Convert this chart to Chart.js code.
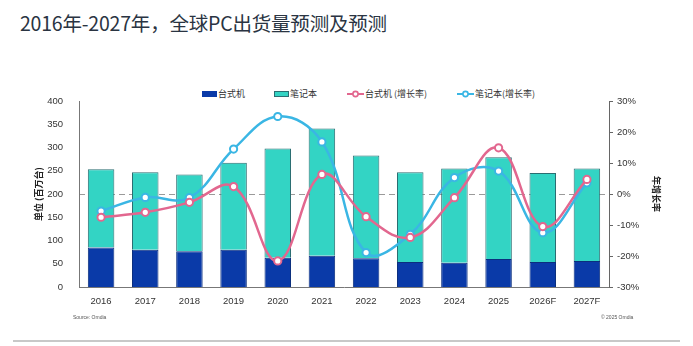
<!DOCTYPE html>
<html>
<head>
<meta charset="utf-8">
<script src="https://cdn.jsdelivr.net/npm/chart.js@4"></script>
<style>
  html, body { margin: 0; padding: 0; background: #fff; }
  #wrap { position: relative; width: 693px; height: 346px; overflow: hidden; }
  #chart { position: absolute; left: 0; top: 0; }
  .title {
    position: absolute; left: 20px; top: 8px;
    font: 19.5px "Noto Sans CJK SC", "Noto Sans", sans-serif; color: #2a3442;
    white-space: nowrap; letter-spacing: -0.2px;
  }
  .lg { position: absolute; top: 88px; font: 9px "Noto Sans CJK SC", sans-serif; color: #333; white-space: nowrap; line-height: 12px; }
  .lg svg { vertical-align: middle; margin-right: 1px; position: relative; top: -1px; }
  .note { position: absolute; top: 314px; font: 5px "Liberation Sans", Arial, sans-serif; color: #555; }
  .rule { position: absolute; left: 13px; top: 340px; width: 667px; height: 2px; background: #c8c8c8; }
</style>
</head>
<body>
<div id="wrap">
  <div class="title">2016年-2027年，全球PC出货量预测及预测</div>
  <div class="lg" style="left:202px"><svg width="15" height="6"><rect x="0" y="0" width="15" height="6" fill="#0a3aa8"/></svg>台式机</div>
  <div class="lg" style="left:274px"><svg width="15" height="6"><rect x="0.5" y="0.5" width="14" height="5" fill="#33d4c4" stroke="#2b6e72"/></svg>笔记本</div>
  <div class="lg" style="left:347px"><svg width="17" height="8"><line x1="0" y1="4" x2="17" y2="4" stroke="#e2678f" stroke-width="2"/><circle cx="8.5" cy="4" r="2.6" fill="#fff" stroke="#e2678f" stroke-width="1.6"/></svg>台式机 (增长率)</div>
  <div class="lg" style="left:457px"><svg width="17" height="8"><line x1="0" y1="4" x2="17" y2="4" stroke="#3ab6e4" stroke-width="2"/><circle cx="8.5" cy="4" r="2.6" fill="#fff" stroke="#3ab6e4" stroke-width="1.6"/></svg>笔记本(增长率)</div>
  <canvas id="chart" width="693" height="346"></canvas>
  <div class="note" style="left:73px">Source: Omdia</div>
  <div class="note" style="left:601px">© 2025 Omdia</div>
  <div class="rule"></div>
</div>
<script>
// ── data (百万台 / %) ─────────────────────────────────────────────
const years        = ['2016', '2017', '2018', '2019', '2020', '2021', '2022', '2023', '2024', '2025', '2026F', '2027F'];
const desktop      = [85, 80, 77, 80, 63, 67, 62, 54, 52, 60, 54, 56];
const notebook     = [168, 167, 165, 187, 235, 274, 221, 193, 203, 219, 191, 199];
const desktopGrow  = [-7.5, -5.9, -2.7, 2.4, -21.6, 6.3, -7.3, -14.0, -1.2, 14.9, -10.5, 4.7];
const notebookGrow = [-5.5, -1.1, -1.2, 14.5, 25.0, 16.8, -18.9, -13.0, 5.3, 7.4, -12.5, 3.6];
const leftTicks    = [0, 50, 100, 150, 200, 250, 300, 350, 400];
const rightTicks   = [-30, -20, -10, 0, 10, 20, 30];

const PINK = '#e2678f';
const BLUE = '#3ab6e4';
const tickFont = { family: '"Liberation Sans", Arial, sans-serif', size: 9.5 };

const lineSet = (label, data, color) => ({
  type: 'line',
  label,
  data,
  yAxisID: 'y1',
  borderColor: color,
  backgroundColor: '#fff',
  borderWidth: 2.5,
  tension: 0.4,
  pointRadius: 3.6,
  pointBorderWidth: 2,
  pointBackgroundColor: '#fff',
  pointBorderColor: color,
  order: 0,
});

new Chart(document.getElementById('chart'), {
  type: 'bar',
  data: {
    labels: years,
    datasets: [
      { label: '台式机', data: desktop, backgroundColor: '#0a3aa8', borderColor: '#0b2f7e', borderWidth: 1,
        yAxisID: 'y', stack: 'pc', categoryPercentage: 1, barPercentage: 0.6, order: 1 },
      { label: '笔记本', data: notebook, backgroundColor: '#33d4c4', borderColor: '#2b6e72', borderWidth: 1,
        yAxisID: 'y', stack: 'pc', categoryPercentage: 1, barPercentage: 0.6, order: 1 },
      lineSet('台式机 (增长率)', desktopGrow, PINK),
      lineSet('笔记本(增长率)', notebookGrow, BLUE),
    ],
  },
  options: {
    responsive: false,
    animation: false,
    layout: { padding: { left: 33, right: 31, top: 101, bottom: 36 } },
    plugins: { legend: { display: false }, tooltip: { enabled: false } },
    scales: {
      x: {
        stacked: true,
        grid: { display: false },
        border: { color: '#777', width: 1 },
        ticks: { color: '#333', font: tickFont, padding: 1, maxRotation: 0 },
        afterFit: s => { s.height = 23; },
      },
      y: {
        stacked: true,
        min: 0, max: 400,
        afterBuildTicks: s => { s.ticks = leftTicks.map(v => ({ value: v })); },
        grid: { display: false },
        border: { color: '#777', width: 1 },
        ticks: { color: '#333', font: tickFont, padding: 8 },
        title: { display: true, text: '单位 (百万台)', color: '#222',
                 font: { family: '"Noto Sans CJK SC", sans-serif', size: 9, weight: 'bold' }, padding: 0 },
        afterFit: s => { s.width = 46; },
      },
      y1: {
        position: 'right',
        stacked: false,
        min: -30, max: 30,
        afterBuildTicks: s => { s.ticks = rightTicks.map(v => ({ value: v })); },
        grid: {
          drawOnChartArea: true,
          color: c => (c.tick && c.tick.value === 0 ? '#9a9a9a' : 'rgba(0,0,0,0)'),
          tickColor: '#666',
          tickLength: 4,
          lineWidth: 1,
        },
        border: { color: '#666', width: 1, dash: [6, 4] },
        ticks: { color: '#333', font: tickFont, padding: 4, callback: v => v + '%' },
        title: { display: true, text: '年增长率', color: '#222',
                 font: { family: '"Noto Sans CJK SC", sans-serif', size: 9, weight: 'bold' }, padding: 0 },
        afterFit: s => { s.width = 53; },
      },
    },
  },
});
</script>
</body>
</html>
